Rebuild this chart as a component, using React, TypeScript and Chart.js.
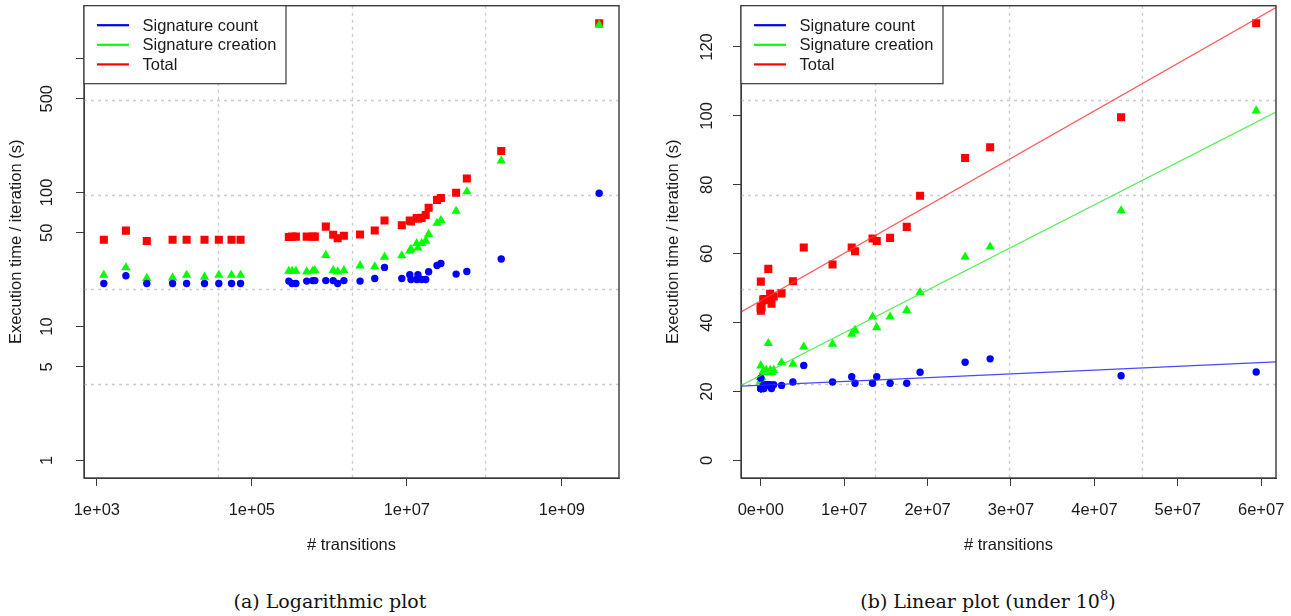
import React, { useEffect, useRef } from 'react';
import { Chart, registerables } from 'chart.js';

Chart.register(...registerables);

// ---------------- data ----------------
const transitions = [
  1230, 2370, 4410, 9490, 14400, 24500, 37500, 54700, 71500,
  300000, 330000, 370000, 510000, 610000, 650000, 900000, 1120000, 1280000, 1540000,
  2490000, 3850000, 5150000, 8600000,
  10900000, 11300000, 13400000, 13900000, 15500000, 17500000, 19100000,
  24500000, 27500000, 43200000, 59400000,
  165000000, 3030000000,
];
const signatureCount = [
  20.9, 23.9, 20.9, 20.9, 20.9, 20.9, 20.9, 20.9, 20.9,
  21.8, 20.9, 20.9, 21.8, 22.0, 22.0, 22.0, 22.0, 20.9, 22.0,
  21.8, 22.8, 27.6, 22.8,
  24.3, 22.4, 22.4, 24.3, 22.4, 22.4, 25.6,
  28.5, 29.5, 24.6, 25.7,
  31.9, 98.6,
];
const signatureCreation = [
  24.2, 27.5, 22.9, 23.1, 24.2, 23.4, 24.2, 24.2, 24.2,
  25.9, 25.9, 25.9, 25.6, 25.9, 26.2, 34.0, 26.2, 25.6, 26.2,
  28.4, 28.0, 33.0, 33.8,
  36.7, 37.8, 41.7, 38.6, 41.7, 43.6, 48.8,
  59.1, 62.0, 72.5, 101.5,
  172, 1778,
];
const total = [
  44.4, 51.9, 43.5, 44.4, 44.4, 44.4, 44.4, 44.4, 44.4,
  46.5, 46.8, 46.8, 46.8, 46.8, 46.8, 55.6, 48.4, 45.5, 47.6,
  48.5, 52.0, 61.8, 56.9,
  61.8, 60.7, 64.4, 63.7, 64.6, 67.8, 76.8,
  87.8, 90.9, 99.6, 126.9,
  204, 1832,
];

const seriesNames = ['Signature count', 'Signature creation', 'Total'];
const seriesColors = ['#0000ff', '#00ff00', '#ff0000'];
const fitColors = ['rgba(40,40,255,0.85)', 'rgba(60,235,60,0.85)', 'rgba(255,60,60,0.85)'];
const pointStyles = ['circle', 'triangle', 'rect'];
const pointRadii = [3.7, 5.4, 5.7];

const logXTicks = [1e3, 1e5, 1e7, 1e9];
const logXTickLabels = ['1e+03', '1e+05', '1e+07', '1e+09'];
const logYTicks = [1, 5, 10, 50, 100, 500, 1000];
const logYTickLabels = ['1', '5', '10', '50', '100', '500', ''];
const linXTicks = [0, 1e7, 2e7, 3e7, 4e7, 5e7, 6e7];
const linXTickLabels = ['0e+00', '1e+07', '2e+07', '3e+07', '4e+07', '5e+07', '6e+07'];
const linYTicks = [0, 20, 40, 60, 80, 100, 120];
const linYTickLabels = ['0', '20', '40', '60', '80', '100', '120'];
const linearCutoff = 1e8;

const xTitle = '# transitions';
const yTitle = 'Execution time / iteration (s)';

// ---------------- layout / style ----------------
const CH = 570;
const BOX_LEFT = 84;
const BOX_TOP = 5;
const BOX_BOTTOM = 478;
const BOX_WIDTH = 535;
const SANS = "'Liberation Sans', Arial, sans-serif";
const FONT_SIZE = 16.5;
const TEXT = '#1a1a1a';
const AXIS = '#3a3a3a';
const GRID = '#cccccc';

function extend(a: number, b: number): [number, number] {
  const d = b - a;
  return [a - 0.04 * d, b + 0.04 * d];
}

function linFit(xs: number[], ys: number[]) {
  const n = xs.length;
  const mx = xs.reduce((s, v) => s + v, 0) / n;
  const my = ys.reduce((s, v) => s + v, 0) / n;
  let sxy = 0, sxx = 0;
  for (let i = 0; i < n; i++) {
    sxy += (xs[i] - mx) * (ys[i] - my);
    sxx += (xs[i] - mx) * (xs[i] - mx);
  }
  const b = sxy / sxx;
  return { a: my - b * mx, b };
}

function makeDecor(yTicks: number[], yLabels: string[], labelOffset: number) {
  return {
    id: 'rDecor',
    beforeDatasetsDraw(chart: any) {
      const { ctx, chartArea: a } = chart;
      const w = a.right - a.left;
      const h = a.bottom - a.top;
      ctx.save();
      ctx.strokeStyle = GRID;
      ctx.lineWidth = 1.4;
      ctx.setLineDash([3, 4]);
      for (let k = 1; k < 4; k++) {
        const x = Math.round(a.left + (k * w) / 4) + 0.5;
        ctx.beginPath();
        ctx.moveTo(x, a.top);
        ctx.lineTo(x, a.bottom);
        ctx.stroke();
      }
      for (let k = 1; k < 5; k++) {
        const y = Math.round(a.top + (k * h) / 5) + 0.5;
        ctx.beginPath();
        ctx.moveTo(a.left, y);
        ctx.lineTo(a.right, y);
        ctx.stroke();
      }
      ctx.restore();
    },
    afterDatasetsDraw(chart: any) {
      const { ctx, chartArea: a } = chart;
      ctx.save();
      // plot box
      ctx.strokeStyle = AXIS;
      ctx.lineWidth = 1.4;
      ctx.strokeRect(a.left, a.top, a.right - a.left, a.bottom - a.top);
      // y tick labels (parallel to the axis, as R draws them)
      const ys = chart.scales.y;
      ctx.fillStyle = TEXT;
      ctx.font = `${FONT_SIZE}px ${SANS}`;
      ctx.textAlign = 'center';
      ctx.textBaseline = 'middle';
      yTicks.forEach((v, i) => {
        if (!yLabels[i]) return;
        const py = ys.getPixelForValue(v);
        ctx.save();
        ctx.translate(a.left - labelOffset, py);
        ctx.rotate(-Math.PI / 2);
        ctx.fillText(yLabels[i], 0, 0);
        ctx.restore();
      });
      // legend
      const lx = a.left;
      const ly = a.top;
      const lw = 202;
      const lh = 78;
      ctx.fillStyle = '#ffffff';
      ctx.fillRect(lx, ly, lw, lh);
      ctx.strokeStyle = AXIS;
      ctx.lineWidth = 1.2;
      ctx.strokeRect(lx, ly, lw, lh);
      ctx.textAlign = 'left';
      seriesNames.forEach((name, k) => {
        const y = ly + 19.5 + k * 19.6;
        ctx.strokeStyle = seriesColors[k];
        ctx.lineWidth = 2.2;
        ctx.beginPath();
        ctx.moveTo(lx + 13, y);
        ctx.lineTo(lx + 45, y);
        ctx.stroke();
        ctx.fillStyle = TEXT;
        ctx.fillText(name, lx + 58.5, y + 1);
      });
      ctx.restore();
    },
  };
}

function buildConfig(kind: 'log' | 'linear', canvasWidth: number): any {
  const isLog = kind === 'log';
  const idx = transitions.map((_, i) => i).filter((i) => isLog || transitions[i] < linearCutoff);
  const series = [signatureCount, signatureCreation, total];
  const xs = idx.map((i) => transitions[i]);
  const yTop = Math.max(...idx.map((i) => total[i]));
  let xMin: number, xMax: number, yMin: number, yMax: number;
  if (isLog) {
    const [a, b] = extend(Math.log10(Math.min(...xs)), Math.log10(Math.max(...xs)));
    xMin = 10 ** a;
    xMax = 10 ** b;
    const [c, d] = extend(0, Math.log10(yTop));
    yMin = 10 ** c;
    yMax = 10 ** d;
  } else {
    [xMin, xMax] = extend(Math.min(...xs), Math.max(...xs));
    [yMin, yMax] = extend(0, yTop);
  }

  const datasets: any[] = [];
  if (!isLog) {
    series.forEach((s, k) => {
      const { a, b } = linFit(xs, idx.map((i) => s[i]));
      datasets.push({
        label: seriesNames[k] + ' fit',
        data: [
          { x: xMin, y: a + b * xMin },
          { x: xMax, y: a + b * xMax },
        ],
        showLine: true,
        pointRadius: 0,
        borderColor: fitColors[k],
        borderWidth: 1.3,
        fill: false,
      });
    });
  }
  series.forEach((s, k) => {
    datasets.push({
      label: seriesNames[k],
      data: idx.map((i) => ({ x: transitions[i], y: s[i] })),
      showLine: false,
      pointStyle: pointStyles[k],
      pointRadius: pointRadii[k],
      pointBorderWidth: 0,
      backgroundColor: seriesColors[k],
      borderColor: seriesColors[k],
    });
  });

  const xt = isLog ? logXTicks : linXTicks;
  const xl = isLog ? logXTickLabels : linXTickLabels;
  const yt = isLog ? logYTicks : linYTicks;
  const yl = isLog ? logYTickLabels : linYTickLabels;
  const font = { family: SANS, size: FONT_SIZE };

  return {
    type: 'scatter',
    data: { datasets },
    options: {
      animation: false,
      responsive: false,
      devicePixelRatio: 1,
      layout: { padding: { left: 0, top: BOX_TOP, right: canvasWidth - BOX_LEFT - BOX_WIDTH, bottom: 0 } },
      plugins: { legend: { display: false }, tooltip: { enabled: false } },
      scales: {
        x: {
          type: isLog ? 'logarithmic' : 'linear',
          min: xMin,
          max: xMax,
          bounds: 'data',
          afterBuildTicks: (s: any) => {
            s.ticks = xt.map((v) => ({ value: v }));
          },
          afterFit: (s: any) => {
            s.height = CH - BOX_BOTTOM;
            s.paddingLeft = 0;
            s.paddingRight = 0;
          },
          grid: { display: true, drawOnChartArea: false, drawTicks: true, tickLength: 8, tickColor: AXIS, tickWidth: 1 },
          border: { display: true, color: AXIS, width: 1 },
          ticks: {
            autoSkip: false,
            maxRotation: 0,
            minRotation: 0,
            padding: 15,
            color: TEXT,
            font,
            callback: (_v: any, i: number) => xl[i],
          },
          title: { display: true, text: xTitle, color: TEXT, font, padding: { top: 0, bottom: 15 } },
        },
        y: {
          type: isLog ? 'logarithmic' : 'linear',
          min: yMin,
          max: yMax,
          bounds: 'data',
          afterBuildTicks: (s: any) => {
            s.ticks = yt.map((v) => ({ value: v }));
          },
          afterFit: (s: any) => {
            s.width = BOX_LEFT;
            s.paddingTop = 0;
            s.paddingBottom = 0;
          },
          grid: { display: true, drawOnChartArea: false, drawTicks: true, tickLength: 8, tickColor: AXIS, tickWidth: 1 },
          border: { display: true, color: AXIS, width: 1 },
          ticks: { display: false },
          title: { display: true, text: yTitle, color: TEXT, font, padding: { top: 7, bottom: 0 } },
        },
      },
    },
    plugins: [makeDecor(yt, yl, isLog ? 37 : 34)],
  };
}

function RPlot({ kind, left, width }: { kind: 'log' | 'linear'; left: number; width: number }) {
  const ref = useRef<HTMLCanvasElement | null>(null);
  useEffect(() => {
    if (!ref.current) return;
    const chart = new Chart(ref.current, buildConfig(kind, width));
    return () => chart.destroy();
  }, [kind, width]);
  return (
    <canvas
      ref={ref}
      width={width}
      height={CH}
      style={{ position: 'absolute', left, top: 0, width, height: CH }}
    />
  );
}

const captionStyle: React.CSSProperties = {
  position: 'absolute',
  top: 589,
  width: 500,
  textAlign: 'center',
  fontFamily: "'DejaVu Serif', serif",
  fontSize: 19,
  lineHeight: '24px',
  color: '#111',
  whiteSpace: 'nowrap',
};

export default function App() {
  return (
    <div style={{ position: 'absolute', left: 0, top: 0, width: 1291, height: 616, background: '#fff', overflow: 'hidden' }}>
      <RPlot kind="log" left={0} width={645} />
      <RPlot kind="linear" left={657} width={634} />
      <div style={{ ...captionStyle, left: 330 - 250 }}>(a) Logarithmic plot</div>
      <div style={{ ...captionStyle, left: 988 - 250 }}>
        (b) Linear plot (under 10
        <span style={{ fontSize: 13, position: 'relative', top: -8 }}>8</span>)
      </div>
    </div>
  );
}
